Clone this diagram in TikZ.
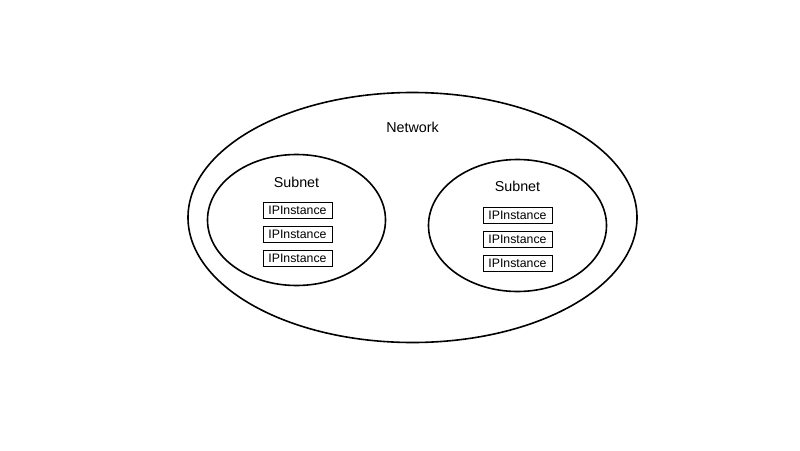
\documentclass[tikz,border=0pt]{standalone}
\usepackage{fontspec}
\setmainfont{Liberation Sans}
\usetikzlibrary{shapes.geometric}

\begin{document}
\begin{tikzpicture}[x=1pt, y=-1pt,
    ring/.style={ellipse, draw, line width=1.6pt, inner sep=0pt},
    ipbox/.style={rectangle, draw, line width=0.8pt, inner sep=0pt, minimum width=69pt, minimum height=16pt, font=\fontsize{12.3}{13}\selectfont},
    title/.style={font=\fontsize{14.3}{16}\selectfont}]
      \useasboundingbox (0,0) rectangle (800,450);

      \node[ring, minimum width=449pt, minimum height=250pt] (net) at (412.5,217.5) {};
      \node[ring, minimum width=178pt, minimum height=131pt] (sub1) at (296.5,220) {};
      \node[ring, minimum width=178pt, minimum height=132pt] (sub2) at (517.5,225.5) {};

      \node[title] (nettext) at (412.5,127) {Network};
      \node[title] (sub1text) at (296.5,182) {Subnet};
      \node[title] (sub2text) at (517.5,186.5) {Subnet};

      \node[ipbox] (11) at (297.5,210) {IPInstance};
      \node[ipbox] (12) at (297.5,234.5) {IPInstance};
      \node[ipbox] (13) at (297.5,258.5) {IPInstance};

      \node[ipbox] (21) at (517.5,215.5) {IPInstance};
      \node[ipbox] (22) at (517.5,239.5) {IPInstance};
      \node[ipbox] (23) at (517.5,263.5) {IPInstance};
    \end{tikzpicture}
\end{document}
